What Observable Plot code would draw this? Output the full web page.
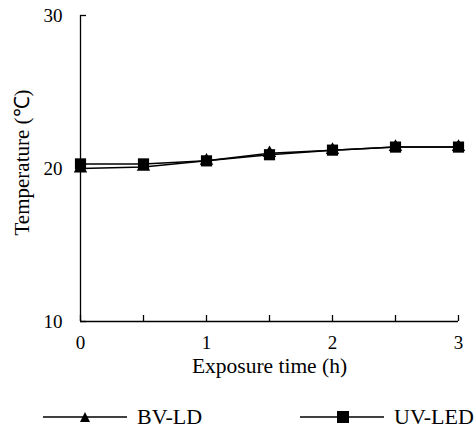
<!DOCTYPE html>
<html><head><meta charset="utf-8">
<script src="https://cdn.jsdelivr.net/npm/d3@7"></script>
<script src="https://cdn.jsdelivr.net/npm/@observablehq/plot@0.6"></script>
<style>
html,body{margin:0;background:#fff;font-family:"Liberation Serif",serif;overflow:hidden;}
#legend{font-family:"Liberation Serif",serif;font-size:22px;line-height:20px;color:#000;height:40px;position:relative;width:474px;}
.item{position:absolute;top:17px;height:20px;display:flex;align-items:center;white-space:nowrap;}
</style></head>
<body><div id="chart"></div><div id="legend"></div>
<script>
const times = [0, 0.5, 1, 1.5, 2, 2.5, 3];
const bvld = [20.0, 20.1, 20.5, 21.0, 21.2, 21.4, 21.4];
const uvled = [20.3, 20.3, 20.5, 20.9, 21.2, 21.4, 21.4];
const seriesNames = ["BV-LD", "UV-LED"];
const symbols = ["triangle", "square"];
const minorTicks = [0, 0.5, 1, 1.5, 2, 2.5, 3];
const xLabels = [0, 1, 2, 3];
const yTicks = [10, 20, 30];
const xTitle = "Exposure time (h)";
const yTitle = "Temperature (\u2103)";

const bvData = times.map((t, i) => ({t, v: bvld[i], s: seriesNames[0]}));
const uvData = times.map((t, i) => ({t, v: uvled[i], s: seriesNames[1]}));

const plot = Plot.plot({
  width: 474, height: 390,
  marginLeft: 80, marginRight: 16, marginTop: 15, marginBottom: 69,
  style: {fontFamily: "Liberation Serif, serif", fontSize: "19px", color: "#000", background: "#fff"},
  x: {domain: [0, 3]},
  y: {domain: [10, 30]},
  marks: [
    Plot.ruleY([10], {stroke: "#000", strokeWidth: 1.3}),
    Plot.ruleX([0], {stroke: "#000", strokeWidth: 1.3}),
    Plot.axisX({ticks: minorTicks, tickSize: -6, tickFormat: () => "", label: null, strokeWidth: 1.3}),
    Plot.axisX({ticks: xLabels, tickSize: 0, tickPadding: 14, tickFormat: d3.format("d"), label: null, fontSize: 19}),
    Plot.axisY({ticks: yTicks, tickSize: -6, tickPadding: 24, tickFormat: d3.format("d"), label: null, fontSize: 19, strokeWidth: 1.3}),
    Plot.text([xTitle], {frameAnchor: "bottom", dy: 51, fontSize: 21.5, fill: "#000"}),
    Plot.text([yTitle], {frameAnchor: "left", textAnchor: "middle", dx: -58, dy: -6, rotate: -90, fontSize: 21, fill: "#000"}),
    Plot.line(bvData, {x: "t", y: "v", stroke: "#000", strokeWidth: 1.5}),
    Plot.line(uvData, {x: "t", y: "v", stroke: "#000", strokeWidth: 1.5}),
    Plot.dot(bvData, {x: "t", y: "v", symbol: symbols[0], r: 5, fill: "#000", stroke: "none"}),
    Plot.dot(uvData, {x: "t", y: "v", symbol: symbols[1], r: 6.3, fill: "#000", stroke: "none"})
  ]
});
document.getElementById("chart").appendChild(plot);

const leg = document.getElementById("legend");
const pos = [43, 300];
seriesNames.forEach((name, i) => {
  const d = document.createElement("div");
  d.className = "item";
  d.style.left = pos[i] + "px";
  const shape = symbols[i] === "square"
    ? '<rect x="37" y="4" width="12" height="12" fill="#000"/>'
    : '<path d="M42,5 L47,15 L37,15 Z" fill="#000"/>';
  d.innerHTML = `<svg width="84" height="20" style="flex:none"><line x1="0" y1="10" x2="84" y2="10" stroke="#000" stroke-width="1.3"/>${shape}</svg><span style="margin-left:10px">${name}</span>`;
  leg.appendChild(d);
});
</script></body></html>
